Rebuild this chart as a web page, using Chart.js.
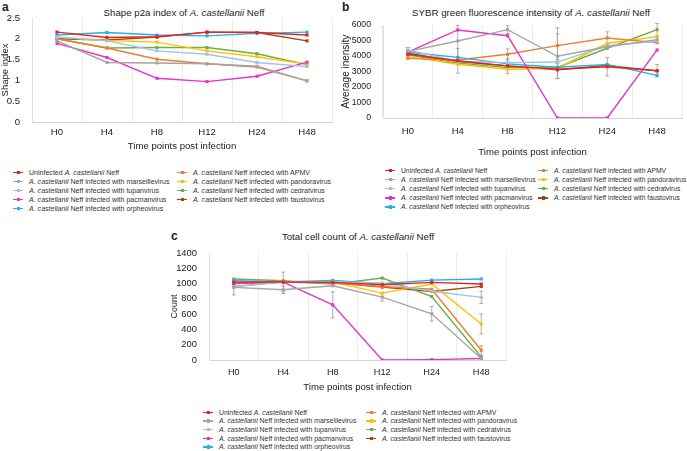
<!DOCTYPE html>
<html lang="en">
<head>
<meta charset="UTF-8" />
<title>A. castellanii Neff infection time course</title>
<script src="https://cdn.jsdelivr.net/npm/chart.js"></script>
<style>
  body { margin: 0; background: #fff; font-family: "Liberation Sans", Arial, sans-serif; color: #222; }
  #page { position: relative; width: 687px; height: 451px; overflow: hidden; }
  canvas, .txt, .legend { position: absolute; }
  .letter { font-weight: bold; font-size: 12px; }
  .title { font-size: 9.7px; white-space: nowrap; transform: translate(-50%, -50%); }
  .legend { color: #333; }
  .legend .row { position: absolute; white-space: nowrap; height: 9px; line-height: 9px; }
  .legend .mk { position: relative; display: inline-block; width: 10px; height: 9px; margin-right: 6px; vertical-align: top; }
  .legend .mk .ln { position: absolute; left: 0; top: 4px; width: 10px; height: 1.5px; }
  .legend .mk .pt { position: absolute; left: 3.5px; top: 3px; width: 3.5px; height: 3.5px; }
</style>
</head>
<body>
<div id="page">
  <div class="txt letter" style="left:2px;top:0px">a</div>
  <div class="txt letter" style="left:342px;top:0px">b</div>
  <div class="txt letter" style="left:171px;top:229px">c</div>

  <div class="txt title" style="left:184px;top:12px">Shape p2a index of <i>A. castellanii</i> Neff</div>
  <div class="txt title" style="left:531px;top:12px">SYBR green fluorescence intensity of <i>A. castellanii</i> Neff</div>
  <div class="txt title" style="left:358px;top:236px">Total cell count of <i>A. castellanii</i> Neff</div>

  <canvas id="chartA" width="340" height="157" style="left:0;top:0"></canvas>
  <canvas id="chartB" width="347" height="160" style="left:340px;top:0"></canvas>
  <canvas id="chartC" width="360" height="165" style="left:150px;top:230px"></canvas>

  <div class="legend" id="legendA" style="left:0;top:0;font-size:7.05px"></div>
  <div class="legend" id="legendB" style="left:0;top:0;font-size:6.75px"></div>
  <div class="legend" id="legendC" style="left:0;top:0;font-size:6.9px"></div>
</div>

<script>
  const timePoints = ['H0', 'H4', 'H8', 'H12', 'H24', 'H48'];
  const viruses = [null, 'marseillevirus', 'tupanvirus', 'pacmanvirus', 'orpheovirus',
                   'APMV', 'pandoravirus', 'cedratvirus', 'faustovirus'];
  const colors = ['#e8231f', '#a5a5a5', '#9dc3e6', '#e533c6', '#21b2e8',
                  '#ed7d31', '#ffc000', '#70ad47', '#9e480e'];

  // a - shape index
  const shapeUninfected = [2.16, 2.03, 2.05, 2.16, 2.15, 2.09];
  const shapeMarseille  = [1.95, 1.43, 1.42, 1.40, 1.34, 0.99];
  const shapeTupan      = [2.04, 1.95, 1.71, 1.63, 1.43, 1.33];
  const shapePacman     = [1.89, 1.55, 1.05, 0.97, 1.10, 1.44];
  const shapeOrpheo     = [2.09, 2.15, 2.09, 2.07, 2.13, 2.16];
  const shapeApmv       = [2.00, 1.78, 1.51, 1.40, 1.32, 0.99];
  const shapePandora    = [2.04, 1.96, 1.92, 1.71, 1.57, 1.39];
  const shapeCedrat     = [2.00, 1.78, 1.79, 1.79, 1.64, 1.38];
  const shapeFausto     = [2.00, 1.97, 2.04, 2.16, 2.15, 1.95];

  // b - SYBR green intensity
  const sybrUninfected = [4110, 3690, 3360, 3150, 3310, 3050];
  const sybrMarseille  = [4300, 4970, 5700, 3980, 4600, 5050];
  const sybrTupan      = [4390, 3650, 3570, 3610, 4670, 4950];
  const sybrPacman     = [4250, 5680, 5310, 0, 0, 4390];
  const sybrOrpheo     = [4240, 3910, 3490, 3270, 3460, 2750];
  const sybrApmv       = [3850, 3740, 4110, 4670, 5160, 4860];
  const sybrPandora    = [3960, 3470, 3150, 3210, 4820, 5250];
  const sybrCedrat     = [4070, 3540, 3260, 3260, 4500, 5700];
  const sybrFausto     = [4180, 3640, 3360, 3110, 3390, 3040];
  const sybrErrMarseille = [250, 1000, 250, 1450, 0, 0];
  const sybrErrApmv      = [0, 0, 350, 1150, 400, 0];
  const sybrErrUninfected = [0, 800, 500, 600, 600, 400];
  const sybrErrCedrat    = [0, 0, 0, 0, 0, 400];

  // c - total cell count
  const countUninfected = [1019, 1020, 1015, 984, 1016, 995];
  const countMarseille  = [950, 919, 971, 822, 605, 20];
  const countTupan      = [960, 1020, 1020, 1006, 900, 820];
  const countPacman     = [1000, 1019, 722, 0, 5, 20];
  const countOrpheo     = [1037, 1020, 1041, 997, 1045, 1060];
  const countApmv       = [962, 1020, 1006, 962, 925, 127];
  const countPandora    = [1006, 1028, 1019, 875, 995, 472];
  const countCedrat     = [1059, 1037, 993, 1072, 831, 40];
  const countFausto     = [1006, 1020, 1010, 954, 897, 963];
  const countErrMarseille = [100, 50, 0, 50, 95, 0];
  const countErrUninfected = [0, 130, 0, 0, 0, 0];
  const countErrPacman  = [0, 0, 170, 0, 0, 0];
  const countErrPandora = [0, 0, 0, 0, 0, 130];
  const countErrTupan   = [0, 0, 0, 0, 0, 80];
  const countErrApmv    = [0, 0, 0, 0, 0, 60];

  const plainLabel = i => i === 0 ? 'Uninfected A. castellanii Neff'
                                  : 'A. castellanii Neff infected with ' + viruses[i];
  const htmlLabel = i => i === 0 ? 'Uninfected <i>A. castellanii</i> Neff'
                                 : '<i>A. castellanii</i> Neff infected with ' + viruses[i];

  const errorBars = {
    id: 'errorBars',
    beforeDatasetsDraw(chart) {
      const { ctx, scales: { y } } = chart;
      ctx.save();
      ctx.strokeStyle = '#9a9a9a';
      ctx.lineWidth = 0.8;
      chart.data.datasets.forEach((ds, i) => {
        if (!ds.errors) return;
        const meta = chart.getDatasetMeta(i);
        ds.errors.forEach((e, j) => {
          if (!e) return;
          const px = meta.data[j].x;
          const top = y.getPixelForValue(ds.data[j] + e);
          const bot = y.getPixelForValue(ds.data[j] - e);
          ctx.beginPath();
          ctx.moveTo(px, top); ctx.lineTo(px, bot);
          ctx.moveTo(px - 2, top); ctx.lineTo(px + 2, top);
          ctx.moveTo(px - 2, bot); ctx.lineTo(px + 2, bot);
          ctx.stroke();
        });
      });
      ctx.restore();
    }
  };

  const font = size => ({ size, family: 'Liberation Sans' });

  const makeChart = (id, series, errs, o) => {
    const datasets = series.map((d, i) => ({
      label: plainLabel(i),
      data: d,
      errors: errs[i] || null,
      borderColor: colors[i],
      backgroundColor: colors[i],
      borderWidth: 1.4,
      pointStyle: 'rect',
      pointRadius: 2.2,
      pointBorderWidth: 0,
      tension: 0
    }));
    return new Chart(document.getElementById(id), {
      type: 'line',
      data: { labels: timePoints, datasets },
      options: {
        responsive: false,
        animation: false,
        layout: { padding: { top: o.padTop, right: o.padRight, left: 0, bottom: 0 } },
        plugins: { legend: { display: false }, tooltip: { enabled: false } },
        scales: {
          x: {
            offset: true,
            grid: { offset: true, color: '#e6e6e6', lineWidth: 0.8, drawTicks: false },
            border: { color: '#d4d4d4' },
            ticks: { color: '#222', padding: o.xPad, font: font(o.xFont) },
            title: { display: true, text: 'Time points post infection', color: '#222',
                     padding: { top: 0, bottom: o.xTitlePad }, font: font(9.6) },
            afterFit: s => { s.height = o.xHeight; }
          },
          y: {
            min: 0, max: o.yMax,
            grid: { display: false },
            border: { color: '#e0e0e0' },
            ticks: { stepSize: o.yStep, color: '#222', padding: 4, font: font(o.yFont),
                     callback: v => String(v) },
            title: { display: true, text: o.yTitle, color: '#222',
                     padding: { top: o.yTitlePad, bottom: 0 }, font: font(o.yTitleFont) },
            afterFit: s => { s.width = o.yWidth; }
          }
        }
      },
      plugins: [errorBars]
    });
  };

  const makeLegend = (id, leftX, rightX, top0, step) => {
    const box = document.getElementById(id);
    colors.forEach((c, i) => {
      const col = i < 5 ? 0 : 1;
      const row = i < 5 ? i : i - 5;
      const div = document.createElement('div');
      div.className = 'row';
      div.style.left = (col ? rightX : leftX) + 'px';
      div.style.top = (top0 + row * step - 4.5) + 'px';
      div.innerHTML = `<span class="mk"><span class="ln" style="background:${c}"></span>` +
                      `<span class="pt" style="background:${c}"></span></span>${htmlLabel(i)}`;
      box.appendChild(div);
    });
  };

  makeChart('chartA',
    [shapeUninfected, shapeMarseille, shapeTupan, shapePacman, shapeOrpheo,
     shapeApmv, shapePandora, shapeCedrat, shapeFausto], [],
    { padTop: 18, padRight: 8, yWidth: 32, xHeight: 35, yMax: 2.5, yStep: 0.5,
      yTitle: 'Shape index', yTitleFont: 9.5, yTitlePad: 0, yFont: 9.6, xFont: 9.6, xPad: 5, xTitlePad: 5 });

  makeChart('chartB',
    [sybrUninfected, sybrMarseille, sybrTupan, sybrPacman, sybrOrpheo,
     sybrApmv, sybrPandora, sybrCedrat, sybrFausto],
    [sybrErrUninfected, sybrErrMarseille, null, null, null, sybrErrApmv, null, sybrErrCedrat, null],
    { padTop: 25, padRight: 5, yWidth: 43, xHeight: 42, yMax: 6000, yStep: 1000,
      yTitle: 'Average inensity', yTitleFont: 10, yTitlePad: 0, yFont: 8.7, xFont: 9.5, xPad: 8, xTitlePad: 2 });

  makeChart('chartC',
    [countUninfected, countMarseille, countTupan, countPacman, countOrpheo,
     countApmv, countPandora, countCedrat, countFausto],
    [countErrUninfected, countErrMarseille, countErrTupan, countErrPacman, null,
     countErrApmv, countErrPandora, null, null],
    { padTop: 23, padRight: 3, yWidth: 59, xHeight: 35, yMax: 1400, yStep: 200,
      yTitle: 'Count', yTitleFont: 9, yTitlePad: 19, yFont: 9.4, xFont: 9.2, xPad: 7, xTitlePad: 2 });

  makeLegend('legendA', 13, 177, 172, 9.1);
  makeLegend('legendB', 385, 538, 170, 9.2);
  makeLegend('legendC', 203, 366, 412, 8.7);
</script>
</body>
</html>
